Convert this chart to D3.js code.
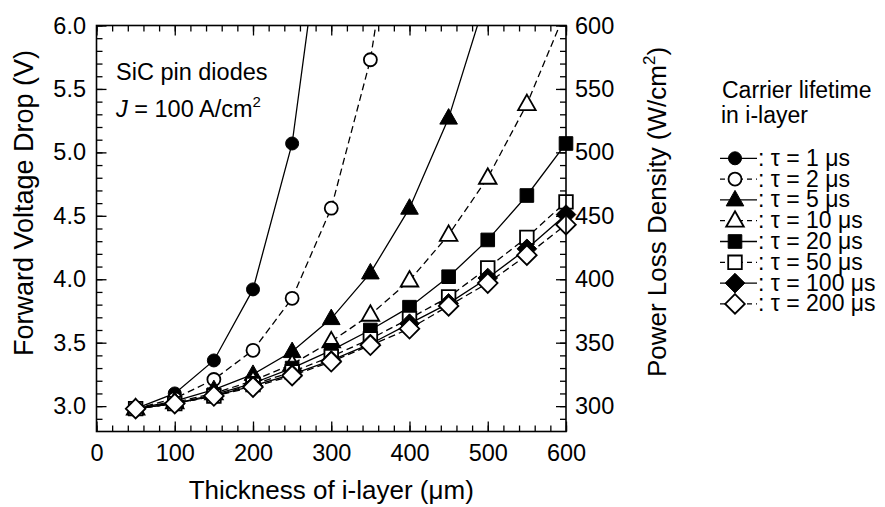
<!DOCTYPE html>
<html>
<head>
<meta charset="utf-8">
<script src="https://cdn.jsdelivr.net/npm/d3@7"></script>
<style>
  html, body { margin: 0; padding: 0; background: #fff; }
  svg { display: block; }
  text { font-family: "Liberation Sans", Arial, sans-serif; fill: #000; }
</style>
</head>
<body>
<svg id="chart" width="885" height="507"></svg>
<script>
// ---------------- DATA ----------------
const thickness = [50, 100, 150, 200, 250, 300, 350, 400, 450, 500, 550, 600];
const seriesNames = ["τ = 1 μs", "τ = 2 μs", "τ = 5 μs", "τ = 10 μs", "τ = 20 μs", "τ = 50 μs", "τ = 100 μs", "τ = 200 μs"];
const tau1   = [2.98, 3.10, 3.36, 3.92, 5.07, 7.37];
const tau2   = [2.98, 3.06, 3.21, 3.44, 3.85, 4.56, 5.73, 7.70];
const tau5   = [2.98, 3.04, 3.13, 3.25, 3.43, 3.69, 4.05, 4.56, 5.27, 6.26];
const tau10  = [2.98, 3.03, 3.10, 3.20, 3.33, 3.51, 3.72, 3.99, 4.35, 4.80, 5.38, 6.12];
const tau20  = [2.98, 3.02, 3.09, 3.18, 3.30, 3.44, 3.60, 3.78, 4.02, 4.31, 4.66, 5.07];
const tau50  = [2.98, 3.02, 3.08, 3.17, 3.27, 3.39, 3.53, 3.69, 3.86, 4.09, 4.33, 4.61];
const tau100 = [2.98, 3.02, 3.08, 3.16, 3.25, 3.36, 3.49, 3.65, 3.81, 4.01, 4.24, 4.51];
const tau200 = [2.98, 3.02, 3.08, 3.15, 3.24, 3.35, 3.48, 3.61, 3.79, 3.97, 4.19, 4.43];
const xTicks = [0, 100, 200, 300, 400, 500, 600];
const yTicks = [3.0, 3.5, 4.0, 4.5, 5.0, 5.5, 6.0];
const yRightTicks = [300, 350, 400, 450, 500, 550, 600];

const allSeries = [tau1, tau2, tau5, tau10, tau20, tau50, tau100, tau200];
const markerShapes = ["circle", "circle", "triangle", "triangle", "square", "square", "diamond", "diamond"];
const markerFilled = [true, false, true, false, true, false, true, false];

// ---------------- LAYOUT ----------------
const L = 96.5, R = 566, T = 25.5, B = 431.5;
const svg = d3.select("#chart");
const x = d3.scaleLinear().domain([0, 600]).range([L, R]);
const y = d3.scaleLinear().domain([2.8, 6.0]).range([B, T]);
const yR = d3.scaleLinear().domain([280, 600]).range([B, T]);

svg.append("defs").append("clipPath").attr("id", "plotclip")
  .append("rect").attr("x", L).attr("y", T).attr("width", R - L).attr("height", B - T);

function styleAxis(g) {
  g.select(".domain").remove();
  g.selectAll(".tick line").attr("stroke", "#000").attr("stroke-width", 1.3);
  g.selectAll("text").style("font-size", "23.5px").attr("fill", "#000");
}

// minor ticks
svg.append("g").attr("transform", `translate(0,${B})`)
  .call(d3.axisBottom(x).tickValues(d3.range(0, 601, 20)).tickSize(-6).tickFormat(""))
  .call(styleAxis);
svg.append("g").attr("transform", `translate(0,${T})`)
  .call(d3.axisTop(x).tickValues(d3.range(0, 601, 20)).tickSize(-6).tickFormat(""))
  .call(styleAxis);
svg.append("g").attr("transform", `translate(${L},0)`)
  .call(d3.axisLeft(y).tickValues(d3.range(29, 61, 1).map(d => d / 10)).tickSize(-6).tickFormat(""))
  .call(styleAxis);
svg.append("g").attr("transform", `translate(${R},0)`)
  .call(d3.axisRight(yR).tickValues(d3.range(290, 601, 10)).tickSize(-6).tickFormat(""))
  .call(styleAxis);

// major ticks + labels
svg.append("g").attr("transform", `translate(0,${B})`)
  .call(d3.axisBottom(x).tickValues(xTicks).tickSize(-10).tickPadding(13).tickFormat(d3.format("d")))
  .call(styleAxis);
svg.append("g").attr("transform", `translate(0,${T})`)
  .call(d3.axisTop(x).tickValues(xTicks).tickSize(-10).tickFormat(""))
  .call(styleAxis);
svg.append("g").attr("transform", `translate(${L},0)`)
  .call(d3.axisLeft(y).tickValues(yTicks).tickSize(-10).tickPadding(10.5).tickFormat(d3.format(".1f")))
  .call(styleAxis);
svg.append("g").attr("transform", `translate(${R},0)`)
  .call(d3.axisRight(yR).tickValues(yRightTicks).tickSize(-10).tickPadding(9).tickFormat(d3.format("d")))
  .call(styleAxis);

// ---------------- MARKERS ----------------
function markerPath(shape) {
  switch (shape) {
    case "circle": return d3.symbol(d3.symbolCircle, Math.PI * 6.5 * 6.5)();
    case "triangle": return "M0,-9.5L8.8,6L-8.8,6Z";
    case "square": return "M-6.8,-6.8H6.8V6.8H-6.8Z";
    case "diamond": return "M0,-9.8L9.8,0L0,9.8L-9.8,0Z";
  }
}

const plot = svg.append("g");
const line = d3.line().x(d => x(d[0])).y(d => y(d[1]));

allSeries.forEach((vals, i) => {
  const pts = vals.map((v, j) => [thickness[j], v]);
  plot.append("path")
    .attr("clip-path", "url(#plotclip)")
    .attr("d", line(pts))
    .attr("fill", "none")
    .attr("stroke", "#000")
    .attr("stroke-width", 1.3)
    .attr("stroke-dasharray", markerFilled[i] ? null : "7,4");
  plot.selectAll(null)
    .data(pts.filter(p => p[1] <= 6.0))
    .enter().append("path")
    .attr("transform", p => `translate(${x(p[0])},${y(p[1])})`)
    .attr("d", markerPath(markerShapes[i]))
    .attr("fill", markerFilled[i] ? "#000" : "#fff")
    .attr("stroke", "#000")
    .attr("stroke-width", markerFilled[i] ? 1 : 1.8);
});

// frame
svg.append("rect").attr("x", L).attr("y", T).attr("width", R - L).attr("height", B - T)
  .attr("fill", "none").attr("stroke", "#000").attr("stroke-width", 1.6);

// ---------------- TITLES ----------------
svg.append("text")
  .attr("transform", `translate(33,203) rotate(-90)`)
  .attr("text-anchor", "middle")
  .style("font-size", "27px")
  .text("Forward Voltage Drop (V)");

const rt = svg.append("text")
  .attr("transform", `translate(666,212) rotate(-90)`)
  .attr("text-anchor", "middle")
  .style("font-size", "26px");
rt.append("tspan").text("Power Loss Density (W/cm");
rt.append("tspan").attr("dy", -11).style("font-size", "17px").text("2");
rt.append("tspan").attr("dy", 11).text(")");

svg.append("text")
  .attr("x", (L + R) / 2).attr("y", 499)
  .attr("text-anchor", "middle")
  .style("font-size", "26px")
  .text("Thickness of i-layer (μm)");

// annotation
svg.append("text").attr("x", 116).attr("y", 80).style("font-size", "23.5px").text("SiC pin diodes");
const ann = svg.append("text").attr("x", 116).attr("y", 117).style("font-size", "23.5px");
ann.append("tspan").style("font-style", "italic").text("J");
ann.append("tspan").text(" = 100 A/cm");
ann.append("tspan").attr("dy", -10).style("font-size", "15px").text("2");

// ---------------- LEGEND ----------------
svg.append("text").attr("x", 722).attr("y", 98).style("font-size", "23px").text("Carrier lifetime");
svg.append("text").attr("x", 721).attr("y", 123).style("font-size", "23px").text("in i-layer");

const leg = svg.append("g");
seriesNames.forEach((name, i) => {
  const cy = 158.3 + i * 20.8;
  leg.append("line")
    .attr("x1", 720).attr("x2", 757).attr("y1", cy).attr("y2", cy)
    .attr("stroke", "#000").attr("stroke-width", 1.3)
    .attr("stroke-dasharray", markerFilled[i] ? null : "5,4");
  leg.append("path")
    .attr("transform", `translate(735,${cy})`)
    .attr("d", markerPath(markerShapes[i]))
    .attr("fill", markerFilled[i] ? "#000" : "#fff")
    .attr("stroke", "#000")
    .attr("stroke-width", markerFilled[i] ? 1 : 1.8);
  leg.append("text")
    .attr("x", 758).attr("y", cy + 7.5)
    .style("font-size", "23px")
    .text(": " + name);
});
</script>
</body>
</html>
